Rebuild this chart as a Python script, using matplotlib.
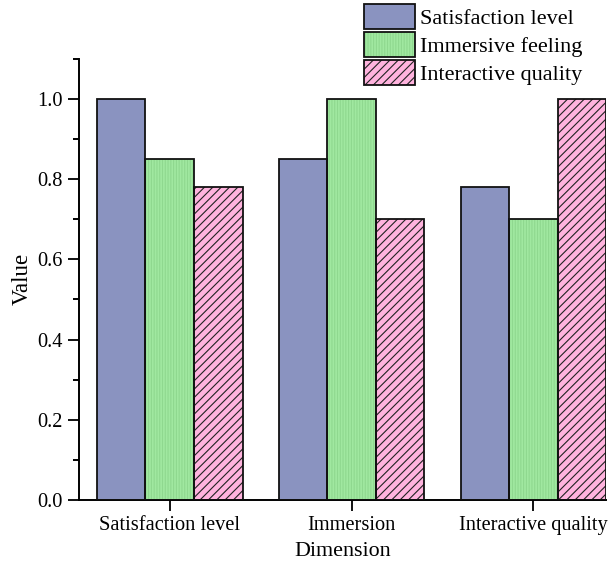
import numpy as np
import matplotlib.pyplot as plt
from matplotlib.patches import Patch

plt.rcParams['font.family'] = ['Liberation Serif', 'DejaVu Serif']
plt.rcParams['hatch.linewidth'] = 0.8

# Données
dimensions = ["Satisfaction level", "Immersion", "Interactive quality"]
series = ["Satisfaction level", "Immersive feeling", "Interactive quality"]
satisfaction = [1.0, 0.85, 0.78]
immersive = [0.85, 1.0, 0.70]
interactive = [0.78, 0.70, 1.0]
yticks = [0.0, 0.2, 0.4, 0.6, 0.8, 1.0]

fill_colors = ["#8a93c0", "#a0e8a0", "#ffb3de"]
hatch_colors = ["#8a93c0", "#8fd88f", "#222222"]
hatches = [None, "||||||", "////"]

fig = plt.figure(figsize=(6.16, 5.72), dpi=100)
ax = fig.add_axes([0.128, 0.126, 0.856, 0.771])

x = np.arange(len(dimensions))
w = 0.267
handles = []
for i, vals in enumerate([satisfaction, immersive, interactive]):
    pos = x + (i - 1) * w
    ax.bar(pos, vals, w, color=fill_colors[i], edgecolor=hatch_colors[i],
           hatch=hatches[i], linewidth=0, zorder=2)
    ax.bar(pos, vals, w, color="none", edgecolor="#111111", linewidth=1.3, zorder=3)
    handles.append((Patch(facecolor=fill_colors[i], edgecolor=hatch_colors[i],
                          hatch=hatches[i], linewidth=0),
                    Patch(facecolor="none", edgecolor="#111111", linewidth=1.3)))

ax.set_xlim(-0.5, 2.4)
ax.set_ylim(0, 1.1)
ax.set_yticks(yticks)
ax.set_yticks(np.arange(0.1, 1.11, 0.2), minor=True)
ax.set_yticklabels([f"{v:.1f}" for v in yticks])
ax.set_xticks(x)
ax.set_xticklabels(dimensions)
ax.tick_params(axis='both', which='major', direction='out', length=8, width=1.4,
               labelsize=14.7, color="#111111")
ax.tick_params(axis='y', which='minor', direction='out', length=4.5, width=1.4)
ax.spines['top'].set_visible(False)
ax.spines['right'].set_visible(False)
for s in ['left', 'bottom']:
    ax.spines[s].set_linewidth(1.4)
ax.set_xlabel("Dimension", fontsize=15.8, labelpad=5)
ax.set_ylabel("Value", fontsize=16.5, labelpad=3)

fig.legend(handles, series, loc='upper left', bbox_to_anchor=(364 / 616, 1 - 4 / 572),
           frameon=False, fontsize=16, handlelength=2.3, handleheight=1.38,
           labelspacing=0.12, handletextpad=0.2, borderpad=0, borderaxespad=0)

fig.savefig("out.png", dpi=100)
